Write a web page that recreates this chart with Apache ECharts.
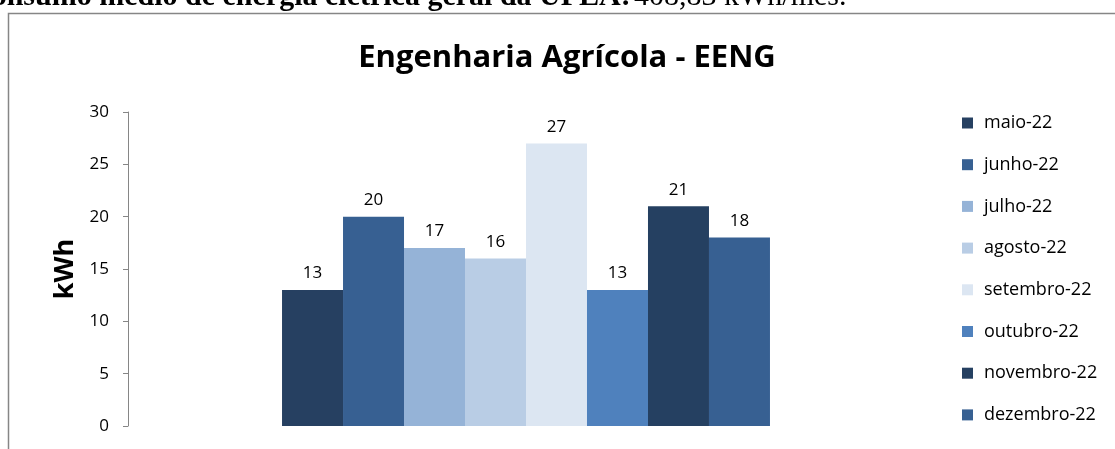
<!DOCTYPE html>
<html><head><meta charset="utf-8">
<script src="https://cdn.jsdelivr.net/npm/echarts@6/dist/echarts.min.js"></script>
<style>html,body{margin:0;padding:0;background:#fff}#c{width:1115px;height:449px}</style>
</head><body><div id="c"></div>
<script>
const months = ['maio-22','junho-22','julho-22','agosto-22','setembro-22','outubro-22','novembro-22','dezembro-22'];
const values = [13, 20, 17, 16, 27, 13, 21, 18];
const colors = ['#264061','#376092','#95B3D7','#B9CDE5','#DCE6F2','#4F81BD','#254061','#376092'];
const yTicks = [0, 5, 10, 15, 20, 25, 30];
const category = ['EENG'];

const chart = echarts.init(document.getElementById('c'));
const series = months.map((m, i) => ({
  name: m,
  type: 'bar',
  data: [values[i]],
  itemStyle: { color: colors[i] },
  barGap: '0%',
  barCategoryGap: '38.7%',
  label: { show: true, position: 'top', distance: 8, color: '#000', fontSize: 17, fontFamily: 'Open Sans' }
}));

chart.setOption({
  animation: false,
  color: colors,
  title: {
    text: 'Engenharia Agrícola - EENG',
    left: 562, top: 38, textAlign: 'center',
    textStyle: { fontFamily: 'Open Sans', fontWeight: 'bold', fontSize: 31, color: '#000' }
  },
  legend: {
    orient: 'vertical', left: 962, top: 113, padding: 0,
    icon: 'rect', itemWidth: 11, itemHeight: 11, itemGap: 21.7,
    textStyle: { fontFamily: 'Open Sans', fontSize: 18, color: '#000', lineHeight: 20, padding: [0, 0, 0, 6] },
    data: months
  },
  grid: { left: 128, right: 191, top: 112, bottom: 23, containLabel: false },
  xAxis: {
    type: 'category', data: category,
    axisLine: { show: false }, axisTick: { show: false }, axisLabel: { show: false }
  },
  yAxis: {
    type: 'value', min: yTicks[0], max: yTicks[yTicks.length - 1], interval: 5,
    name: 'kWh', nameLocation: 'middle', nameGap: 48, nameRotate: 90,
    nameTextStyle: { fontFamily: 'Open Sans', fontWeight: 'bold', fontSize: 27, color: '#000' },
    axisLine: { show: true, lineStyle: { color: '#868686', width: 1 } },
    axisTick: { show: true, length: 5, lineStyle: { color: '#868686' } },
    axisLabel: { fontFamily: 'Open Sans', fontSize: 17, color: '#000', margin: 19 },
    splitLine: { show: false }
  },
  graphic: [
    { type: 'rect', shape: { x: 8.5, y: 13.5, width: 1200, height: 500 },
      style: { fill: 'none', stroke: '#868686', lineWidth: 1.5 }, z: -1 },
    { type: 'text', left: -30, top: -18,
      style: { text: '{b|Consumo médio de energia elétrica geral da UFLA:} {r|408,83 kWh/mês.}',
        rich: { b: { fontFamily: 'Liberation Serif', fontWeight: 'bold', fontSize: 30, fill: '#000' },
                r: { fontFamily: 'Liberation Serif', fontSize: 30, fill: '#000' } } } }
  ],
  series: series
});
</script></body></html>
